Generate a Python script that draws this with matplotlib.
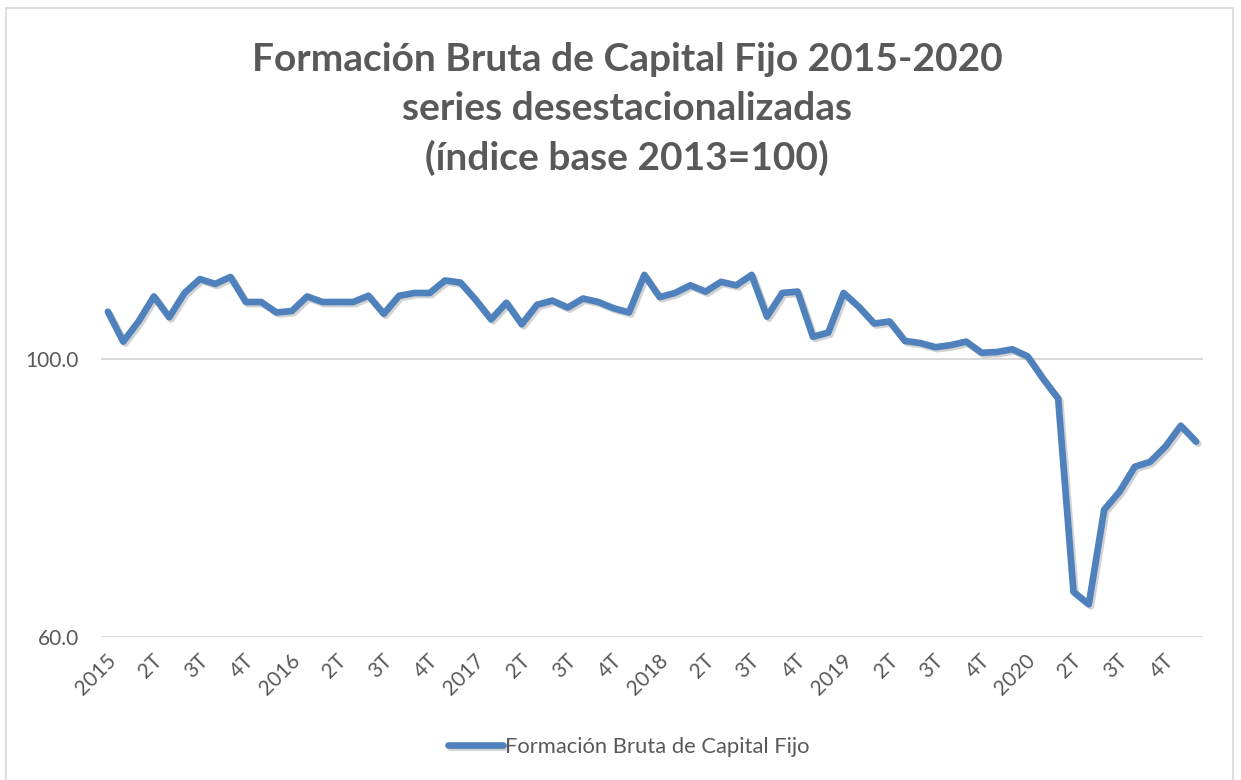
import matplotlib
matplotlib.use("Agg")
import matplotlib.pyplot as plt
import matplotlib.patheffects as pe
import matplotlib.transforms as mtransforms
from matplotlib.patches import Rectangle

plt.rcParams['font.family'] = ['Lato', 'DejaVu Sans']

title = "Formación Bruta de Capital Fijo 2015-2020\nseries desestacionalizadas\n(índice base 2013=100)"
series_name = "Formación Bruta de Capital Fijo"

years = ["2015", "2016", "2017", "2018", "2019", "2020"]
quarter_labels = ["", "2T", "3T", "4T"]

values = [
    106.8, 102.5, 105.4, 109.0, 106.0, 109.5, 111.5, 110.8, 111.8, 108.2, 108.2, 106.7,
    106.9, 109.0, 108.2, 108.2, 108.2, 109.1, 106.5, 109.1, 109.5, 109.5, 111.3, 111.0,
    108.5, 105.7, 108.1, 105.0, 107.8, 108.4, 107.4, 108.7, 108.2, 107.3, 106.7, 112.1,
    108.9, 109.5, 110.6, 109.7, 111.1, 110.6, 112.1, 106.1, 109.5, 109.7, 103.2, 103.8,
    109.5, 107.5, 105.1, 105.4, 102.6, 102.3, 101.7, 102.0, 102.5, 100.9, 101.0, 101.4,
    100.4, 97.2, 94.3, 66.5, 64.7, 78.3, 80.9, 84.5, 85.2, 87.4, 90.4, 88.1,
]

W, H = 1241, 780
fig = plt.figure(figsize=(W / 100, H / 100), dpi=100)
fig.patch.set_facecolor('white')

# chart border
fig.patches.append(Rectangle((6 / W, -0.02), (1233 - 6) / W, 1.02 - 8 / H,
                             transform=fig.transFigure, fill=False,
                             edgecolor='#d9d9d9', linewidth=1.2))

ax = fig.add_axes([101 / W, 1 - 637 / H, (1203 - 101) / W, (637 - 220) / H])
x = list(range(len(values)))
ax.plot(x, values, color='#4f81bd', linewidth=4.8, solid_joinstyle='round',
        solid_capstyle='round', label=series_name,
        path_effects=[pe.SimpleLineShadow(offset=(1.5, -1.5), shadow_color='#7f7f7f', alpha=0.35),
                      pe.Normal()])

ax.set_xlim(-0.45, len(values) - 1 + 0.45)
ax.set_ylim(60, 120)
ax.set_yticks([60, 100])
ax.set_yticklabels(["60.0", "100.0"])
ax.grid(axis='y', color='#d9d9d9', linewidth=1.5)
ax.set_axisbelow(True)
for s in ax.spines.values():
    s.set_visible(False)

tick_pos = list(range(0, len(values), 3))
tick_lab = []
for y in years:
    for q in quarter_labels:
        tick_lab.append(y if q == "" else q)
ax.set_xticks(tick_pos)
ax.set_xticklabels(tick_lab, rotation=45, rotation_mode='anchor', ha='right', va='center')
ax.tick_params(axis='both', length=0, colors='#595959', labelsize=15)
ax.tick_params(axis='x', pad=15)
ax.tick_params(axis='y', pad=16)
offset = mtransforms.ScaledTranslation(5 / 100, 0, fig.dpi_scale_trans)
for lab in ax.get_xticklabels():
    lab.set_transform(lab.get_transform() + offset)

fig.text(627 / W, 1 - 109 / H, title, ha='center', va='center', fontsize=28,
         fontweight='bold', color='#595959', linespacing=1.47)

leg = fig.legend(loc='center', bbox_to_anchor=(629 / W, 1 - 747 / H), frameon=False,
                 fontsize=15.8, handlelength=2.5, handletextpad=0.1)
for t in leg.get_texts():
    t.set_color('#595959')

fig.savefig("out.png", dpi=100, facecolor='white')
